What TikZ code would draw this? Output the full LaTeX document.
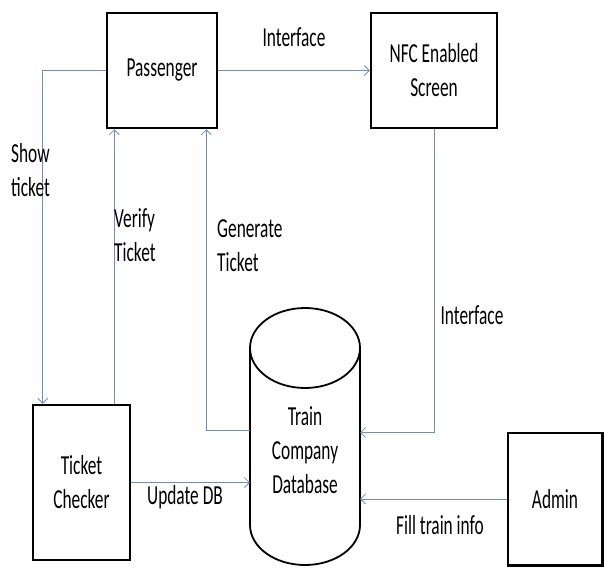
\documentclass[tikz,border=0pt]{standalone}
\usepackage{fontspec}
\setmainfont{Carlito}[FakeStretch=0.63]
\usetikzlibrary{arrows.meta}
\definecolor{linkblue}{RGB}{108,143,190}
\tikzset{
    entity/.style={draw,line width=2.5pt,align=center},
    flow/.style={draw=linkblue,line width=0.8pt,-{Straight Barb[length=5pt,width=10pt]}},
    lbl/.style={inner sep=0pt,align=left}
}
\begin{document}
\begin{tikzpicture}[x=1pt,y=-1pt,font=\fontsize{27.5}{34}\selectfont]
        \useasboundingbox (0,0) rectangle (604,567);
        %% Boxes
        \node[entity,minimum width=110pt,minimum height=115pt] (pass) at (162,70.5) {Passenger};
        \node[entity,minimum width=126pt,minimum height=115pt] (nfc) at (434,70.5) {NFC Enabled\\Screen};
        \node[entity,minimum width=97pt,minimum height=155pt] (chk) at (81.5,482.5) {Ticket\\Checker};
        \node[entity,minimum width=94.5pt,minimum height=132.5pt] (adm) at (555,499) {Admin};
        %% Database (body node, ends drawn by hand)
        \node[minimum width=110pt,minimum height=177pt,inner sep=0pt,outer sep=0pt] (db) at (305,436.5) {};
        \draw[line width=1.8pt] (db.north west) -- (db.south west)
            arc[start angle=180,end angle=360,x radius=55pt,y radius=40pt] -- (db.north east);
        \draw[line width=1.8pt] (db.north) ellipse[x radius=55pt,y radius=40pt];
        \node[align=center] (dbtext) at (305,450) {Train\\Company\\Database};
        %% Connectors
        \draw[flow] (pass) -- (nfc);
        \draw[flow] (pass.west) -| ([xshift=11pt]chk.north west);
        \draw[flow] ([xshift=-17pt]chk.north east) -- ([xshift=-17pt]chk.north east |- pass.south);
        \draw[flow] ([yshift=6pt]db.west) -| ([xshift=-12pt]pass.south east);
        \draw[flow] (nfc.south) |- ([yshift=4pt]db.east);
        \draw[flow] (chk.east) -- (chk.east -| db.west);
        \draw[flow] (adm.west) -- (adm.west -| db.east);
        %% Labels
        \node (iface1) at (294,37) {Interface};
        \node[lbl,anchor=west] (show) at (11,170) {Show\\ticket};
        \node[lbl,anchor=west] (verify) at (114,235.5) {Verify\\Ticket};
        \node[lbl,anchor=west] (gen) at (217,245.5) {Generate\\Ticket};
        \node (iface2) at (472,315) {Interface};
        \node (upd) at (185,497) {Update DB};
        \node (fill) at (440,525) {Fill train info};
    \end{tikzpicture}
\end{document}
